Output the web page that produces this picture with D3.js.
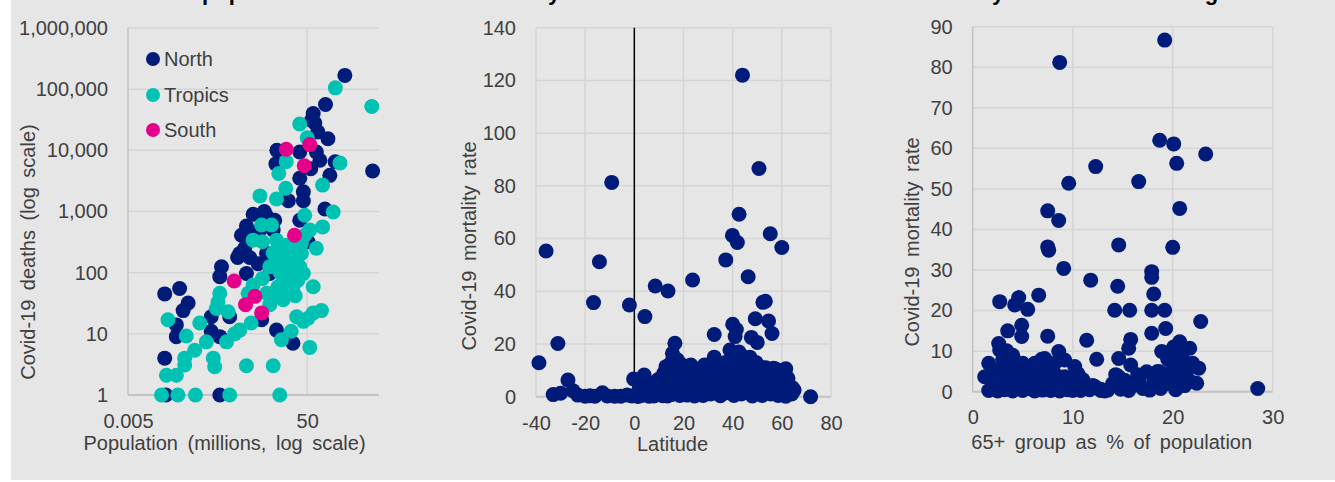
<!DOCTYPE html>
<html>
<head>
<meta charset="utf-8">
<script src="https://d3js.org/d3.v7.min.js"></script>
<style>
  body { margin: 0; background: #ffffff; }
  svg text { font-family: "Liberation Sans", Arial, sans-serif; }
</style>
</head>
<body>
<script>
// ---- panel 1: population (millions) vs deaths, by region ----
const northPoints = [
  [346,168000],[1440,4600],[128,56000],[68,40000],[62,31000],[74,28000],[86,20000],[145,15500],
  [10.5,10000],[10,6000],[34,9400],[80,9400],[96,6900],[160,3900],[210,6500],[34,3500],[41,2100],
  [41,1500],[124,1100],[19,1500],[3.1,900],[6.2,840],[9.4,720],[2.2,580],[1.7,410],[1.4,177],
  [2.6,177],[0.61,125],[0.56,86],[2.2,97],[4.0,140],[34,720],[52,320],[1.56,206],[0.033,45],
  [0.071,55],[0.11,32],[0.085,24],[0.06,14],[0.06,9],[0.36,19],[0.93,19],[0.36,11],[0.56,9],
  [0.033,4],[0.035,1],[0.56,1],[10.3,11.5],[24,7],[4.8,17],[4.4,500],[8.7,500],[3.1,440],
  [6.2,206],[2.0,250],[10.3,125],[7.3,97],[60,5000],[5.5,1000]
];
const tropicsPoints = [
  [212,105000],[1380,52000],[34,27000],[50,16000],[270,6200],[17,6500],[11.6,4200],[16.6,2400],
  [4.4,1800],[10.3,1600],[110,2700],[190,980],[44,870],[110,560],[80,250],[68,59],[4.8,600],
  [8,600],[3.1,340],[5,320],[10.3,340],[44,410],[57,500],[104,24],[68,22],[52,18],[29,19],
  [22,11],[13.3,8],[57,6],[8.7,3],[2.2,3],[12.2,1],[2.8,15],[1.56,11.5],[1.2,10],[0.79,7.4],
  [0.28,7.4],[0.2,15],[0.1,9.2],[0.039,17],[0.154,5.4],[0.092,4],[0.092,3.1],[0.4,4],[0.43,2.9],
  [0.036,2.1],[0.06,2.1],[0.028,1],[0.065,1],[0.16,1],[0.93,1],[0.56,46],[0.51,33],[0.86,23],
  [0.47,26],[3.1,63],[5,80],[7.3,125],[6.2,46],[8.7,46],[7.3,30],[11.2,59],[14.5,86],[17.2,125],
  [20.4,180],[24.3,250],[29,175],[34,125],[37,206],[31,75],[24,59],[19,49],[14.5,36],[10.3,160],
  [13.3,205],[8.7,210],[17.2,280],[37,300],[25.5,103],[41,97],[20,110],[12.2,103],[2.4,46],
  [27,42],[21,66],[41,16]
];
const southPoints = [
  [17,10400],[57,12400],[43,5600],[26,410],[1.17,73],[3.4,41],[2.1,30],[4.8,22]
];
const deathTicks = [1, 10, 100, 1000, 10000, 100000, 1000000];
const popTicks = [0.005, 50];
const regionNames = ['North', 'Tropics', 'South'];

// ---- panel 2: latitude vs mortality rate ----
const latitudeRates = [
  [44,122],[50.7,86.6],[-9.2,81.3],[42.6,69.2],[39.9,61.2],[41.9,58.5],[55.3,61.8],[60,56.6],
  [-35.9,55.3],[-14.2,51.2],[37.2,51.9],[46.3,45.5],[23.7,44.3],[8.5,42],[13.7,40.1],[-16.6,35.7],
  [-2,34.8],[4.3,30.4],[52.3,35.8],[53.3,36.2],[49.2,29.6],[54.6,28.7],[56,24],[32.5,23.6],
  [-31.1,20.2],[-38.8,12.9],[40,27.5],[41.5,25.5],[41,22.8],[47.6,22.5],[50,20.6],[38.9,17.7],
  [32.5,15],[16.5,20.3],[15.5,16.5],[44.3,15.2],[44.5,13],[-27,6.3],[-0.3,6.7],[4,8.2],[9,5.7],
  [71.7,0],[61.6,10.6],[56.6,10.8],[51.5,11.2],[60.2,7.5],[64.3,3.4],[61.6,0.2],[12.9,11.4],[9.5,6.3],
  [-33,0.8],[-30,1.3],[-25,2.3],[-23,0.6],[-20,0.2],[-18,0.4],[-16,0.2],[-13,1.5],[-11,0.3],
  [-8,0.2],[-5.5,0.2],[-3,0.6],[-1,0.3],[1.5,0.1],[3,0.5],[6,0.2],[7.5,1.5],[2,3],[5,4],
  [5.5,1],[6.5,5],[7,2.5],[8,0.3],[9,3],[10,1.2],[10.5,7],
  [11,4],[11.5,0.4],[12,9],[12.5,2],[13,6],[13.5,0.3],[14,10],[14.5,3.5],[15,13],[15,0.8],
  [16,8],[16.5,11],[16,5],[17,2],[17.5,14],[18,9.5],[18.5,0.5],[19,6],[19.5,12],[20,3],
  [21,10],[21.5,0.6],[22,7],[22.5,4],[23,12],[23.5,1.5],[24,8],[25,5],[25.5,10.5],[24.5,0.3],
  [26,2],[27,9],[27.5,6],[28,0.5],[28.5,12],[29,3.5],[30,8],[30.5,11],
  [31,1],[31.5,5.5],[32,9],[33,2.5],[33.5,12],[34,6.5],[35,0.4],[35,10],
  [36,4],[36.5,8],[37,13],[37.5,1.5],[38,6],[38.5,10],[39,2.5],[39.5,14],
  [40,8],[40.5,0.5],[41,5],[41.5,11],[42,3],[42.5,17],[43,7.5],[43.5,1],[44,10],[45,4.5],
  [45.5,8],[46,12],[46.5,2],[47,15],[47.5,6],[48,0.3],[48.5,10],[49,3.5],[49.5,13],[50,7],
  [50.5,1.5],[51,5],[51.5,9],[52,0.5],[52.5,3],[53,7.5],[53.5,11],[54,2],[54.5,5],[55,9],
  [55.5,1],[56,6],[57,3],[57.5,10.5],[58,5.5],[58.5,0.5],[59,8],[60,3],[60.5,10],[61,5.5],
  [62,2],[62.5,7],[63,3.5],[64,1],[65,2.5]
];
const latTicks = [-40, -20, 0, 20, 40, 60, 80];
const rateTicks2 = [0, 20, 40, 60, 80, 100, 120, 140];

// ---- panel 3: share aged 65+ vs mortality rate ----
const agedRates = [
  [19.2,86.7],[8.7,81.2],[18.7,62],[20.1,61.1],[23.3,58.6],[20.4,56.3],[12.3,55.5],[9.6,51.4],
  [16.6,51.8],[20.7,45.2],[7.5,44.6],[8.6,42.2],[7.5,35.7],[7.6,34.9],[14.6,36.2],[20,35.6],
  [9.1,30.4],[11.8,27.5],[17.9,29.6],[17.9,28.2],[14.5,26],[18.1,24.1],[6.6,23.8],[2.7,22.2],
  [4.6,23.2],[4.2,21.4],[5.5,20.3],[14.2,20.1],[15.7,20.1],[17.9,20.1],[19.2,20.1],[22.8,17.3],
  [4.9,16.4],[4.9,13.6],[3.5,15],[7.5,13.7],[17.9,14.4],[19.3,15.6],[11.4,12.7],[15.8,12.9],
  [15.6,10.7],[2.6,11.9],[2.7,10.3],[3.4,10.1],[12.4,8],[14.6,8.2],[15.8,6.6],[8.6,9.9],[6.9,8],
  [20.7,12.3],[21.7,10.7],[18.9,9.9],[19.9,9],[22.6,5.8],[22.4,2.1],[28.5,0.8],[1.2,3.7],[1.6,7],
  [10.2,6.2],[9.2,3.7],[20.6,2.1],[21.2,6.2],[20.2,5.3],[17.4,4.9],[18.7,4.9],[14.6,3.7],
  [16.6,2.5],[17.7,0.4],[7.2,8.2],[9.2,7.8],
  [1.6,0.3],[2.0,1.5],[2.3,4.5],[2.5,0.2],[2.8,2.5],[3.0,6],[3.2,0.5],[3.4,3.5],[3.6,1.2],
  [3.8,5.5],[4.0,0.2],[4.2,2.8],[4.4,7],[4.6,1],[4.8,4],[5.0,0.3],[5.2,2],[5.4,5.5],[5.6,0.8],
  [5.9,3],[6.2,0.2],[6.5,1.8],[6.8,4.5],[7.0,0.4],[7.3,2.5],[7.6,6],[7.8,0.3],[8.1,1.5],[8.4,4],
  [8.7,0.2],[9.0,2.2],[9.5,0.5],[9.8,3],[10.4,1],[10.8,0.3],[11.2,2],[11.7,0.5],[12.2,1.3],
  [12.8,0.3],[13.2,0.2],[14.0,2],[14.3,4.2],[14.8,0.6],[15.2,2.8],[15.6,0.3],[16.0,1.5],
  [16.5,4.2],[17.0,0.8],[18.1,2.5],[18.5,5],[18.8,0.8],[19.2,4],[19.5,8],[19.7,2],[20,6],
  [20.3,0.5],[20.5,10],[20.8,3.5],[21,8],[21.2,1.5],[21.5,5.5],[21.8,2.5],[22,7],[20.1,11],[19.8,10],
  [2.0,5.5],[2.2,3],[3,8],[3.3,6.5],[4,9],[4.5,4.5],[5,7],[5.8,5],[6.2,7],[7.9,5.5],[8.2,7],
  [10.5,4.5],[11,3],[12,1.5],[12.8,0.6],[13.5,0.4],[10,0.3],[9.3,1.2],[8.8,0.5]
];
const ageTicks = [0, 10, 20, 30];
const rateTicks3 = [0, 10, 20, 30, 40, 50, 60, 70, 80, 90];

const titleTexts = ['Covid-19 deaths vs population', 'Covid-19 mortality vs latitude', 'Covid-19 mortality vs share of older age'];

const WIDTH = 1335, HEIGHT = 482;
const BG = '#e6e6e6';
const GRID = '#d5d5d5';
const AXIS_GRAY = '#c2c2c2';
const TEXT = '#404040';
const NAVY = '#001b79';
const TEAL = '#00c2b3';
const MAGENTA = '#e4008b';
const R = 7.5;
const FONT = 20;

const svg = d3.select('body').append('svg')
  .attr('width', WIDTH)
  .attr('height', HEIGHT);

svg.append('rect')
  .attr('x', 11).attr('y', 0)
  .attr('width', WIDTH - 11).attr('height', 480)
  .attr('fill', BG);

// plain hyphen for negatives, like the reference
const plain = d => String(d);

function drawPanel(cfg) {
  const g = svg.append('g');
  const x = cfg.x, y = cfg.y;
  const [x0, x1] = x.range();
  const [y0, y1] = y.range(); // y0 bottom, y1 top

  // gridlines
  g.selectAll('.hgrid').data(cfg.hGrid).enter().append('line')
    .attr('x1', x0).attr('x2', x1)
    .attr('y1', d => y(d)).attr('y2', d => y(d))
    .attr('stroke', GRID).attr('stroke-width', 1.5);
  g.selectAll('.vgrid').data(cfg.vGrid).enter().append('line')
    .attr('x1', d => x(d)).attr('x2', d => x(d))
    .attr('y1', y1).attr('y2', y0)
    .attr('stroke', GRID).attr('stroke-width', 1.5);

  // axis lines
  if (cfg.leftLine) {
    g.append('line')
      .attr('x1', x0).attr('x2', x0).attr('y1', y1).attr('y2', y0)
      .attr('stroke', AXIS_GRAY).attr('stroke-width', 1.5);
  }
  g.append('line')
    .attr('x1', x0).attr('x2', x1).attr('y1', y0).attr('y2', y0)
    .attr('stroke', AXIS_GRAY).attr('stroke-width', 2);
  if (cfg.zeroLine) {
    g.append('line')
      .attr('x1', x(0)).attr('x2', x(0)).attr('y1', y1).attr('y2', y0)
      .attr('stroke', '#000').attr('stroke-width', 1.5);
  }

  // tick labels via d3 axes
  const yAxis = g.append('g')
    .attr('transform', 'translate(' + x0 + ',0)')
    .call(d3.axisLeft(y).tickValues(cfg.yTicks).tickSize(0).tickPadding(20).tickFormat(cfg.yFormat));
  const xAxis = g.append('g')
    .attr('transform', 'translate(0,' + y0 + ')')
    .call(d3.axisBottom(x).tickValues(cfg.xTicks).tickSize(0).tickPadding(cfg.xPad).tickFormat(cfg.xFormat));
  [yAxis, xAxis].forEach(a => {
    a.select('.domain').remove();
    a.selectAll('text')
      .attr('fill', TEXT)
      .style('font-size', FONT + 'px')
      .style('font-family', '"Liberation Sans", Arial, sans-serif');
  });

  // axis titles
  g.append('text')
    .attr('x', (x0 + x1) / 2 + cfg.xTitleDx).attr('y', cfg.xTitleY)
    .attr('dy', '0.35em')
    .attr('text-anchor', 'middle')
    .attr('fill', TEXT)
    .style('font-size', FONT + 'px')
    .style('word-spacing', '4px')
    .text(cfg.xTitle);
  g.append('text')
    .attr('transform', 'translate(' + cfg.yTitleX + ',' + cfg.yTitleY + ') rotate(-90)')
    .attr('dy', '0.35em')
    .attr('text-anchor', 'middle')
    .attr('fill', TEXT)
    .style('font-size', FONT + 'px')
    .style('word-spacing', '4px')
    .text(cfg.yTitle);

  // dots
  cfg.series.forEach(s => {
    g.append('g').selectAll('circle').data(s.data).enter().append('circle')
      .attr('cx', d => x(d[0]))
      .attr('cy', d => y(d[1]))
      .attr('r', R)
      .attr('fill', s.color);
  });
  return g;
}

// panel 1
const x1 = d3.scaleLog().domain([0.005, 2000]).range([128, 379]);
const y1 = d3.scaleLog().domain([1, 1000000]).range([395, 28]);
const p1 = drawPanel({
  x: x1, y: y1,
  hGrid: deathTicks.slice(1), vGrid: [50],
  leftLine: true, zeroLine: false,
  yTicks: deathTicks, yFormat: d3.format(','),
  xTicks: popTicks, xFormat: plain, xPad: 19,
  xTitle: 'Population (millions, log scale)', xTitleY: 443, xTitleDx: -29,
  yTitle: 'Covid-19 deaths (log scale)', yTitleX: 28, yTitleY: 252,
  series: [
    {data: northPoints, color: NAVY},
    {data: tropicsPoints, color: TEAL},
    {data: southPoints, color: MAGENTA}
  ]
});

// legend
const legendColors = [NAVY, TEAL, MAGENTA];
const legend = p1.append('g').selectAll('g').data(regionNames).enter().append('g')
  .attr('transform', (d, i) => 'translate(153,' + [59, 95, 130][i] + ')');
legend.append('circle').attr('r', 7).attr('fill', (d, i) => legendColors[i]);
legend.append('text')
  .attr('x', 11).attr('dy', '0.35em')
  .attr('fill', TEXT)
  .style('font-size', FONT + 'px')
  .text(d => d);

// panel 2
const x2 = d3.scaleLinear().domain([-40, 80]).range([536, 831]);
const y2 = d3.scaleLinear().domain([0, 140]).range([396.7, 27.7]);
drawPanel({
  x: x2, y: y2,
  hGrid: rateTicks2.slice(1), vGrid: latTicks.filter(d => d !== 0),
  leftLine: false, zeroLine: true,
  yTicks: rateTicks2, yFormat: plain,
  xTicks: latTicks, xFormat: plain, xPad: 19,
  xTitle: 'Latitude', xTitleY: 444, xTitleDx: -11,
  yTitle: 'Covid-19 mortality rate', yTitleX: 469, yTitleY: 246,
  series: [{data: latitudeRates, color: NAVY}]
});

// panel 3
const x3 = d3.scaleLinear().domain([0, 30]).range([972.7, 1272.7]);
const y3 = d3.scaleLinear().domain([0, 90]).range([391.7, 26.7]);
drawPanel({
  x: x3, y: y3,
  hGrid: rateTicks3.slice(1), vGrid: ageTicks.slice(1),
  leftLine: true, zeroLine: false,
  yTicks: rateTicks3, yFormat: plain,
  xTicks: ageTicks, xFormat: plain, xPad: 18,
  xTitle: '65+ group as % of population', xTitleY: 442, xTitleDx: -11,
  yTitle: 'Covid-19 mortality rate', yTitleX: 912, yTitleY: 242,
  series: [{data: agedRates, color: NAVY}]
});

// titles, mostly above the top edge
const titleAnchors = [
  {key: 'population', at: 202},
  {key: 'y vs', at: 548},
  {key: 'y vs', at: 992}
];
titleTexts.forEach((t, i) => {
  const el = svg.append('text')
    .attr('x', 0).attr('y', -0.5)
    .attr('fill', '#000')
    .style('font-size', '22px')
    .style('font-weight', 'bold')
    .text(t);
  const idx = t.indexOf(titleAnchors[i].key);
  const off = el.node().getSubStringLength(0, idx);
  el.attr('x', titleAnchors[i].at - off);
});
</script>
</body>
</html>
